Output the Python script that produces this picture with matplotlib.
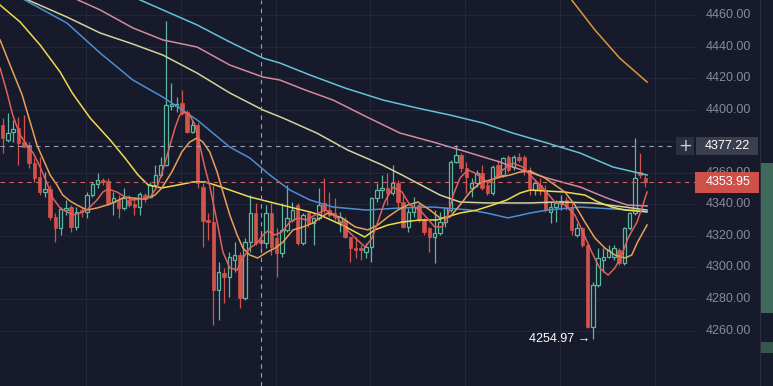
import matplotlib.pyplot as plt
from matplotlib.patches import Rectangle

# candles: open, high, low, close
opens = [4390.3, 4380.8, 4385.7, 4388.2, 4379.7, 4377.6, 4366.0, 4357.5, 4347.6, 4349.6,
         4332.2, 4324.8, 4336.4, 4338.5, 4325.8, 4336.4, 4335.3, 4345.9, 4352.7, 4355.4,
         4354.8, 4341.5, 4342.8, 4337.7, 4342.8, 4340.2, 4338.5, 4345.9, 4344.9, 4352.3,
         4358.6, 4364.9, 4402.5, 4402.3, 4404.2, 4398.5, 4385.9, 4390.3, 4351.0, 4330.1,
         4329.0, 4285.7, 4296.5, 4294.2, 4304.7, 4307.9, 4280.5, 4316.3, 4334.3, 4317.4,
         4315.3, 4334.3, 4318.5, 4309.0, 4323.8, 4330.1, 4339.6, 4315.3, 4334.3, 4328.0,
         4331.2, 4340.7, 4336.4, 4334.3, 4329.0, 4330.1, 4319.5, 4312.5, 4312.1, 4310.0,
         4313.2, 4343.8, 4349.1, 4350.2, 4347.0, 4353.3, 4341.7, 4325.8, 4335.3, 4339.6,
         4330.1, 4325.0, 4319.5, 4321.7, 4329.0, 4336.4, 4367.0, 4371.3, 4362.8, 4350.2,
         4353.3, 4359.7, 4352.3, 4347.0, 4364.9, 4358.6, 4370.2, 4363.9, 4370.2, 4370.2,
         4361.8, 4349.1, 4352.3, 4349.1, 4335.3, 4338.5, 4340.7, 4342.8, 4338.5, 4320.6,
         4324.8, 4314.3, 4262.5, 4288.9, 4304.7, 4306.8, 4306.8, 4311.1, 4302.6, 4324.8,
         4334.3, 4360.7, 4356.5]
highs = [4394.5, 4397.7, 4393.5, 4395.6, 4396.6, 4379.7, 4369.4, 4370.2, 4360.7, 4352.3,
         4334.5, 4338.5, 4342.8, 4339.6, 4338.5, 4337.7, 4348.0, 4354.4, 4359.7, 4356.5,
         4356.5, 4348.0, 4345.9, 4350.2, 4345.9, 4343.8, 4348.0, 4347.0, 4354.4, 4364.9,
         4370.2, 4456.2, 4416.9, 4408.0, 4412.5, 4399.8, 4393.5, 4391.6, 4353.5, 4334.5,
         4352.3, 4303.7, 4299.7, 4310.0, 4316.3, 4310.0, 4318.5, 4345.9, 4340.7, 4322.7,
         4339.6, 4340.7, 4324.8, 4340.7, 4352.3, 4341.7, 4340.7, 4334.3, 4335.3, 4332.2,
         4350.2, 4356.5, 4348.0, 4343.8, 4335.3, 4332.2, 4319.5, 4319.5, 4314.3, 4315.3,
         4344.9, 4353.3, 4358.6, 4359.7, 4364.9, 4355.4, 4345.9, 4337.5, 4344.9, 4340.7,
         4331.2, 4325.8, 4336.4, 4335.3, 4338.5, 4368.1, 4377.6, 4372.3, 4367.0, 4356.5,
         4361.8, 4364.9, 4353.3, 4364.9, 4368.1, 4370.2, 4371.3, 4371.3, 4372.3, 4371.3,
         4363.9, 4355.4, 4356.5, 4352.3, 4341.7, 4342.8, 4345.9, 4344.9, 4340.7, 4328.0,
         4325.8, 4315.3, 4290.5, 4312.1, 4312.1, 4314.3, 4314.3, 4312.1, 4325.8, 4335.3,
         4381.9, 4372.3, 4358.6]
lows = [4372.3, 4379.7, 4379.7, 4364.9, 4376.5, 4362.8, 4354.2, 4345.9, 4344.9, 4330.1,
        4316.3, 4320.6, 4333.3, 4322.7, 4323.8, 4332.2, 4331.6, 4344.9, 4350.2, 4352.3,
        4339.6, 4333.3, 4331.4, 4336.4, 4338.5, 4333.3, 4333.3, 4341.7, 4343.8, 4351.2,
        4357.5, 4364.3, 4399.8, 4398.5, 4396.6, 4385.0, 4385.0, 4350.4, 4313.0, 4317.4,
        4263.6, 4266.7, 4277.5, 4281.5, 4297.3, 4274.3, 4279.4, 4310.0, 4314.3, 4310.0,
        4312.1, 4307.9, 4294.2, 4306.8, 4322.7, 4329.0, 4314.3, 4314.3, 4325.8, 4314.3,
        4330.1, 4334.3, 4332.2, 4330.1, 4322.7, 4318.5, 4303.7, 4305.8, 4304.7, 4305.8,
        4303.7, 4341.7, 4343.8, 4339.6, 4345.9, 4337.5, 4324.8, 4322.7, 4332.2, 4329.0,
        4320.6, 4310.0, 4302.6, 4320.6, 4325.8, 4335.3, 4366.0, 4360.7, 4347.0, 4344.9,
        4351.2, 4349.1, 4345.9, 4345.9, 4356.5, 4357.5, 4360.7, 4361.8, 4367.0, 4358.6,
        4345.9, 4345.9, 4345.9, 4335.3, 4328.0, 4329.0, 4336.4, 4336.4, 4320.6, 4319.5,
        4313.2, 4261.5, 4254.97, 4287.8, 4297.3, 4305.8, 4304.7, 4301.6, 4301.6, 4323.8,
        4333.3, 4356.5, 4350.7]
closes = [4381.9, 4385.0, 4387.6, 4378.7, 4376.5, 4366.0, 4356.5, 4348.0, 4349.6, 4332.2,
          4324.8, 4337.1, 4337.9, 4325.8, 4335.3, 4335.0, 4345.9, 4352.7, 4355.4, 4354.0,
          4340.7, 4344.0, 4337.7, 4344.0, 4339.6, 4338.5, 4346.4, 4343.4, 4352.3, 4358.6,
          4364.9, 4403.0, 4403.4, 4403.4, 4397.9, 4385.9, 4390.3, 4353.5, 4329.4, 4328.8,
          4285.7, 4297.3, 4294.0, 4306.8, 4307.9, 4280.5, 4316.3, 4334.3, 4315.3, 4315.5,
          4334.3, 4313.2, 4309.0, 4323.8, 4331.2, 4336.4, 4315.3, 4333.3, 4328.0, 4331.2,
          4339.6, 4336.4, 4333.3, 4332.2, 4332.2, 4319.5, 4312.1, 4311.1, 4311.1, 4313.2,
          4343.8, 4349.1, 4350.2, 4347.0, 4353.3, 4341.7, 4325.8, 4335.3, 4338.5, 4330.1,
          4322.7, 4319.5, 4321.7, 4329.0, 4337.5, 4367.0, 4371.3, 4362.8, 4357.5, 4353.3,
          4359.7, 4350.2, 4347.0, 4363.9, 4357.5, 4369.2, 4361.8, 4370.2, 4368.1, 4361.8,
          4350.2, 4353.3, 4349.1, 4336.4, 4338.5, 4340.7, 4342.0, 4338.5, 4323.8, 4324.8,
          4314.3, 4262.5, 4288.9, 4305.8, 4306.8, 4311.1, 4312.1, 4302.6, 4324.8, 4334.3,
          4356.5, 4358.6, 4353.95]

# moving averages: (bar position, price)
ma_red_x = [-0.5, 0.8, 1.9, 3.3, 4.6, 5.8, 7.1, 8.4, 9.5, 10.9, 12.2, 13.3, 14.7, 16.2, 17.9,
            19.0, 20.0, 21.7, 23.2, 24.7, 26.6, 28.0, 29.3, 30.4, 31.4, 32.7, 33.6, 34.6,
            35.5, 36.5, 37.4, 38.4, 39.3, 40.7, 41.8, 43.1, 44.5, 45.6, 46.9, 48.3, 49.4,
            50.3, 51.7, 53.0, 54.5, 56.0, 57.7, 59.3, 61.2, 63.1, 65.0, 66.9, 68.8, 70.1,
            71.2, 72.5, 74.1, 75.8, 77.3, 79.2, 80.5, 82.0, 83.4, 84.5, 85.5, 86.8, 88.3,
            89.6, 91.0, 92.1, 93.4, 94.9, 96.8, 98.7, 100.1, 102.9, 104.8, 106.7, 108.6,
            110.1, 111.8, 113.3, 114.9, 116.2, 117.5, 118.7, 120.4, 121.5, 122.3]
ma_red_y = [4426.4, 4411.2, 4396.6, 4384.0, 4377.6, 4372.5, 4363.7, 4353.5, 4344.0, 4337.7,
            4335.2, 4333.3, 4334.5, 4337.1, 4342.8, 4347.8, 4349.7, 4347.8, 4344.7, 4342.8,
            4343.4, 4344.7, 4351.0, 4361.8, 4373.2, 4388.4, 4396.6, 4398.5, 4396.6, 4390.3,
            4377.6, 4363.0, 4351.6, 4328.8, 4309.8, 4299.7, 4298.4, 4306.0, 4312.3, 4315.5,
            4320.6, 4323.1, 4320.6, 4322.5, 4328.8, 4331.4, 4330.1, 4333.3, 4336.4, 4333.3,
            4325.0, 4318.7, 4313.0, 4318.7, 4328.8, 4341.5, 4351.0, 4347.8, 4339.6, 4336.4,
            4331.4, 4325.7, 4325.7, 4333.3, 4345.9, 4356.7, 4361.8, 4359.9, 4356.7, 4353.5,
            4356.7, 4361.8, 4366.2, 4363.7, 4358.6, 4349.1, 4341.5, 4339.6, 4333.3, 4322.5,
            4309.8, 4299.7, 4295.2, 4299.7, 4307.9, 4318.7, 4328.8, 4339.6, 4347.8]

ma_orange_x = [-0.5, 1.4, 3.7, 6.5, 9.0, 10.3, 11.4, 12.8, 14.1, 16.0, 17.9, 20.4, 23.2, 24.7,
               27.0, 28.9, 30.2, 32.1, 34.0, 35.5, 36.9, 38.0, 39.3, 40.7, 41.8, 43.1, 44.5,
               45.6, 46.9, 48.4, 50.2, 51.7, 53.2, 55.1, 57.0, 58.9, 60.2, 61.7, 64.4, 66.9,
               69.3, 71.2, 73.1, 75.0, 76.9, 78.8, 81.1, 83.0, 84.9, 86.8, 88.7, 90.6, 92.5,
               94.4, 96.3, 98.2, 100.1, 102.9, 104.8, 106.7, 108.6, 110.5, 112.4, 114.3,
               116.2, 118.1, 119.4, 120.5, 122.3]
ma_orange_y = [4444.2, 4428.3, 4409.3, 4377.6, 4358.6, 4352.3, 4345.9, 4342.1, 4339.6, 4336.4,
               4337.7, 4340.2, 4344.7, 4344.0, 4343.4, 4345.9, 4350.4, 4360.5, 4373.2, 4379.5,
               4382.1, 4379.5, 4373.2, 4360.5, 4347.8, 4333.3, 4320.6, 4312.3, 4307.9, 4306.0,
               4309.8, 4312.3, 4316.1, 4323.8, 4325.7, 4328.2, 4331.4, 4334.5, 4331.4, 4325.7,
               4323.8, 4326.9, 4332.0, 4336.4, 4339.6, 4341.5, 4336.4, 4331.4, 4332.0, 4339.6,
               4347.8, 4353.5, 4355.4, 4357.3, 4358.6, 4360.5, 4361.1, 4356.7, 4352.3, 4347.8,
               4339.6, 4328.8, 4318.7, 4312.3, 4307.9, 4306.0, 4307.9, 4316.1, 4326.9]

ma_yellow_x = [-0.5, 3.3, 7.1, 10.9, 13.2, 16.6, 20.4, 23.2, 25.7, 27.6, 30.2, 33.3, 36.1, 38.4,
               40.3, 43.1, 46.9, 50.7, 54.5, 58.3, 60.2, 64.4, 66.9, 68.7, 70.6, 73.1, 75.8,
               79.2, 82.4, 86.8, 90.0, 93.0, 95.7, 98.2, 100.1, 102.9, 106.7, 110.5, 113.0,
               115.6, 118.1, 122.3]
ma_yellow_y = [4466.3, 4455.6, 4441.0, 4423.9, 4410.6, 4394.7, 4380.8, 4369.4, 4358.6, 4352.3,
               4350.4, 4352.3, 4354.2, 4354.2, 4352.3, 4349.1, 4344.7, 4341.5, 4338.3, 4335.2,
               4333.3, 4326.9, 4322.5, 4319.3, 4323.8, 4326.9, 4328.8, 4330.1, 4330.1, 4334.5,
               4336.4, 4339.6, 4342.8, 4347.2, 4349.1, 4348.5, 4347.8, 4345.9, 4341.5, 4338.3,
               4336.4, 4335.2]

ma_khaki_x = [-0.5, 4.8, 12.2, 18.5, 24.7, 30.4, 36.9, 43.1, 49.4, 53.2, 59.6, 65.5, 72.0, 75.8,
              80.1, 83.0, 86.8, 91.9, 100.1, 105.4, 111.8, 118.1, 122.3]
ma_khaki_y = [4478.4, 4469.5, 4458.7, 4448.6, 4441.6, 4434.6, 4423.2, 4410.6, 4399.8, 4394.7,
              4385.2, 4374.4, 4365.0, 4358.6, 4351.0, 4345.9, 4341.5, 4340.9, 4340.9, 4341.5,
              4340.9, 4338.3, 4336.4]

ma_blue_x = [-0.5, 4.2, 12.2, 18.5, 24.7, 30.4, 36.9, 43.1, 46.9, 50.7, 54.5, 58.3, 62.7, 69.1,
             75.4, 81.7, 88.7, 91.9, 95.9, 100.1, 103.3, 109.6, 115.8, 122.3]
ma_blue_y = [4477.1, 4469.5, 4454.9, 4435.9, 4418.8, 4408.0, 4393.5, 4376.3, 4369.4, 4358.6,
             4349.1, 4342.8, 4338.3, 4336.4, 4337.7, 4338.3, 4336.4, 4334.5, 4331.4, 4334.5,
             4336.4, 4338.3, 4337.1, 4335.8]

ma_pink_x = [-0.5, 14.3, 18.5, 24.7, 30.4, 36.9, 43.1, 49.4, 52.6, 57.4, 62.7, 69.1, 75.4, 81.7,
             88.1, 94.4, 96.8, 103.3, 109.6, 114.7, 118.5, 122.3]
ma_pink_y = [4491.7, 4469.5, 4463.2, 4451.8, 4444.2, 4439.7, 4428.3, 4420.7, 4418.8, 4412.5,
             4406.1, 4395.4, 4385.2, 4379.5, 4373.2, 4366.8, 4363.7, 4356.7, 4351.0, 4344.0,
             4339.6, 4339.0]

ma_cyan_x = [-0.5, 26.1, 30.4, 36.9, 43.1, 49.4, 52.6, 58.3, 65.0, 72.2, 78.6, 84.9, 91.1, 96.8,
             103.3, 109.6, 115.8, 122.3]
ma_cyan_y = [4507.5, 4469.5, 4463.2, 4453.7, 4442.9, 4432.7, 4429.6, 4422.0, 4413.7, 4406.1,
             4401.1, 4396.6, 4391.6, 4385.2, 4378.9, 4372.5, 4363.7, 4358.6]

ma_long_x = [106.5, 108.0, 112.4, 117.1, 122.3]
ma_long_y = [4482.0, 4469.5, 4450.5, 4432.7, 4417.5]

price_ticks = [4260, 4280, 4300, 4320, 4340, 4360, 4380, 4400, 4420, 4440, 4460]
cross_price = 4377.22
last_price = 4353.95
low_price = 4254.97
low_bar = 112
cross_bar = 49.0

bg = '#171a2a'
up_col = '#5db89f'
down_col = '#d2524c'

fig = plt.figure(figsize=(7.73, 3.86), dpi=100, facecolor=bg)
ax = fig.add_axes([0, 0, 695 / 773, 1])
axr = fig.add_axes([695 / 773, 0, 78 / 773, 1])
ymin, ymax = 4224.9, 4469.5
px = (ymax - ymin) / 386
for a in (ax, axr):
    a.set_facecolor(bg)
    a.set_ylim(ymin, ymax)
    for s in a.spines.values():
        s.set_visible(False)
    a.set_xticks([])
    a.set_yticks([])

ax.set_xlim(-0.51, 131.4)

# grid
for p in price_ticks:
    ax.axhline(p, color='#232738', lw=0.8, zorder=0)
for gx in [15.8 + 18.0 * k for k in range(7)]:
    ax.axvline(gx, color='#232738', lw=0.8, zorder=0)

# candles
w = 0.66
for i, (o, h, l, c) in enumerate(zip(opens, highs, lows, closes)):
    if c >= o:
        ax.vlines(i, l, h, color=up_col, lw=0.9, zorder=2)
        ax.add_patch(Rectangle((i - w / 2, o), w, max(c - o, 0.4), facecolor=bg,
                               edgecolor=up_col, lw=0.9, zorder=3))
    else:
        ax.vlines(i, l, h, color=down_col, lw=0.9, zorder=2)
        ax.add_patch(Rectangle((i - w / 2, c), w, max(o - c, 0.4), facecolor=down_col,
                               edgecolor=down_col, lw=0.5, zorder=3))

# moving averages
ax.plot(ma_cyan_x, ma_cyan_y, color='#63c4d6', lw=1.1, zorder=4)
ax.plot(ma_pink_x, ma_pink_y, color='#d48a9e', lw=1.1, zorder=4)
ax.plot(ma_khaki_x, ma_khaki_y, color='#d5d39a', lw=1.1, zorder=4)
ax.plot(ma_blue_x, ma_blue_y, color='#4a8fd6', lw=1.1, zorder=4)
ax.plot(ma_long_x, ma_long_y, color='#df953a', lw=1.1, zorder=4)
ax.plot(ma_yellow_x, ma_yellow_y, color='#eedc4e', lw=1.1, zorder=5)
ax.plot(ma_orange_x, ma_orange_y, color='#e8a155', lw=1.1, zorder=5)
ax.plot(ma_red_x, ma_red_y, color='#e0605c', lw=1.1, zorder=5)

# crosshair and last price lines
ax.plot([-0.51, 127.6], [cross_price, cross_price], color='#9aa0b4', lw=0.8,
        ls=(0, (4, 4)), zorder=6)
ax.axvline(cross_bar, color='#9aa0b4', lw=0.8, ls=(0, (4, 4)), zorder=6)
ax.axhline(last_price, color='#d0605a', lw=0.8, ls=(0, (4, 4)), zorder=6)

ax.text(low_bar - 0.4, low_price, f'{low_price:.2f} \u2192', color='white', fontsize=9,
        ha='right', va='center', family='Liberation Sans', zorder=7)

# price scale (labels under the crosshair box are hidden, as on the chart)
axr.set_xlim(0, 78)
for p in price_ticks:
    if abs(p - cross_price) < 12 * px:
        continue
    axr.text(33, p, f'{p:.2f}', color='#868aa0', fontsize=9, ha='center', va='center',
             family='Liberation Sans')
axr.add_patch(Rectangle((1, cross_price - 9 * px), 62, 18 * px, facecolor='#3a3e4f',
                        edgecolor='none', zorder=3))
axr.text(32, cross_price, f'{cross_price:.2f}', color='white', fontsize=9, ha='center',
         va='center', family='Liberation Sans', zorder=4)
ax.add_patch(Rectangle((127.7, cross_price - 9 * px), 3.6, 18 * px, facecolor='#2b2f40',
                       edgecolor='none', zorder=7))
ax.text(129.5, cross_price, '+', color='#c8ccd8', fontsize=12, ha='center', va='center',
        zorder=8)
axr.add_patch(Rectangle((0, last_price - 10.5 * px), 64, 21 * px, facecolor='#cf4f49',
                        edgecolor='none', zorder=3))
axr.text(33, last_price, f'{last_price:.2f}', color='white', fontsize=9, ha='center',
         va='center', family='Liberation Sans', zorder=4)
axr.axvline(65, color='#2a2e3f', lw=0.8)

# strip of the neighbouring panel at the right edge
axr.add_patch(Rectangle((66, ymax - 313 * px), 12, 150 * px, facecolor='#3f6a5b',
                        edgecolor='none', zorder=2))
axr.add_patch(Rectangle((66, ymax - 353 * px), 12, 11 * px, facecolor='#34574c',
                        edgecolor='none', zorder=2))

fig.savefig('out.png', dpi=100, facecolor=bg)
